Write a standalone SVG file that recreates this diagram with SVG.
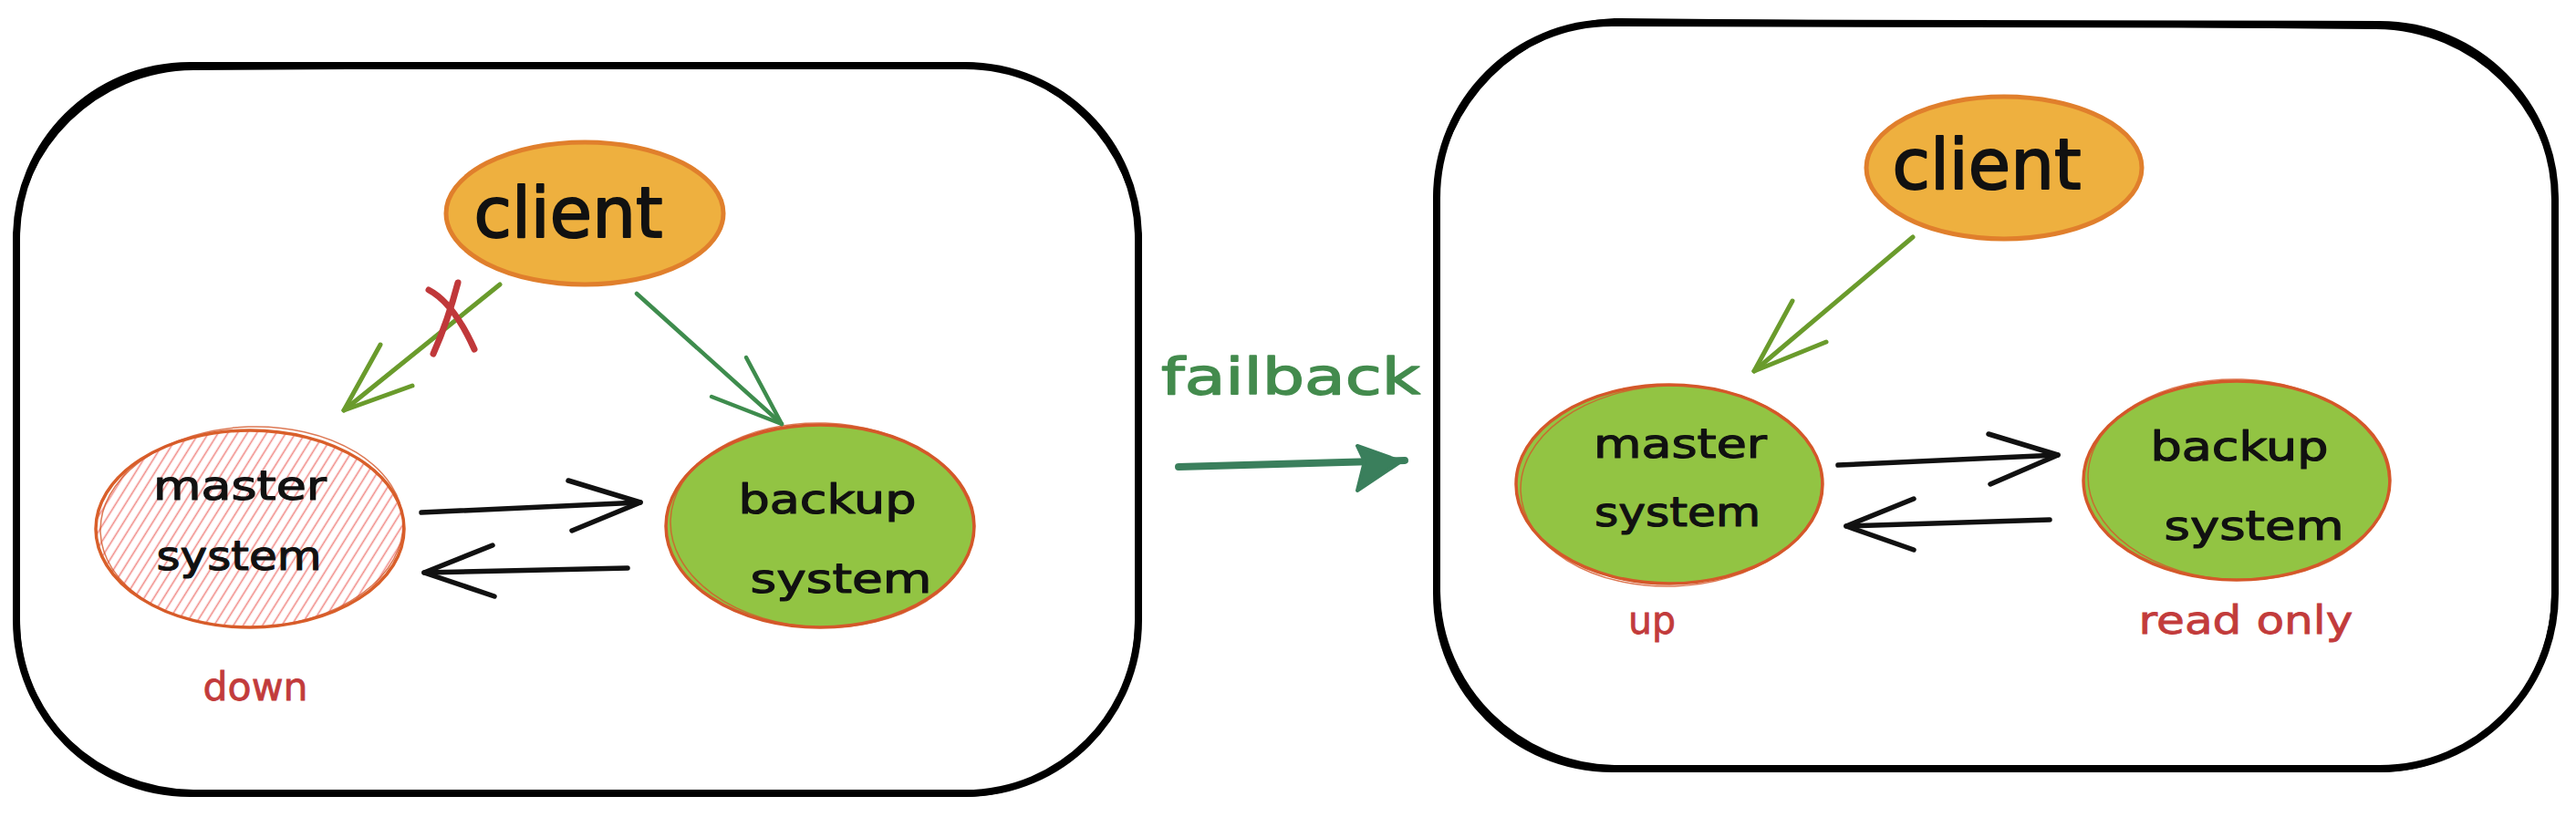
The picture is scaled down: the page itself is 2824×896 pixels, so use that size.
<svg xmlns="http://www.w3.org/2000/svg" width="2824" height="896" viewBox="0 0 2824 896">
  <style>
    .frame { fill: none; stroke: #000; stroke-linecap: round; stroke-linejoin: round; }
    .client { fill: #eeb03f; stroke: #e07f2c; stroke-width: 5; }
    .green { fill: #92c443; stroke: #d4582a; stroke-width: 3.5; }
    .sketch { fill: none; stroke: #d4582a; stroke-width: 1.5; opacity: 0.8; }
    .lbl { font-family: "DejaVu Sans", "Liberation Sans", sans-serif; fill: #111; stroke: #111; stroke-linejoin: round; text-anchor: middle; }
    .big { font-size: 76px; stroke-width: 2; }
    .mid { font-size: 44px; stroke-width: 1.2; }
    .red { font-family: "DejaVu Sans", "Liberation Sans", sans-serif; fill: #c23b3b; stroke: #c23b3b; stroke-width: 0.8; font-size: 42px; text-anchor: middle; }
    .arr { fill: none; stroke-linecap: round; stroke-linejoin: round; }
    .blk { stroke: #111; stroke-width: 5.5; }
    .olive { stroke: #6a9b2c; stroke-width: 5; }
    .dkgreen { stroke: #3e8c4d; stroke-width: 4.5; }
  </style>
  <defs>
    <pattern id="hatch" width="9" height="9" patternUnits="userSpaceOnUse" patternTransform="rotate(32)">
      <line x1="4.5" y1="0" x2="4.5" y2="9" stroke="#f08a86" stroke-width="1.6"/>
    </pattern>
    <clipPath id="clipMaster">
      <ellipse cx="274" cy="580" rx="169" ry="108"/>
    </clipPath>
  </defs>
  <rect width="2824" height="896" fill="#fff"/>

  <g id="frame-left">
    <path class="frame" stroke-width="8" d="M 208,72 L 1058,72 C 1163,72 1248,157 1248,262 L 1248,680 C 1248,785 1163,870 1058,870 L 208,870 C 103,870 18,785 18,680 L 18,262 C 18,157 103,72 208,72 Z"/>
    <path class="frame" stroke-width="4" d="M 212,75 L 1055,70 C 1160,73 1245,160 1250,266 L 1246,684 C 1245,788 1160,873 1054,872 L 212,868 C 106,866 21,788 20,684 L 16,266 C 20,160 106,76 212,75 Z"/>
  </g>

  <g id="frame-right">
    <path class="frame" stroke-width="8" d="M 1767,25 L 2609,27 C 2715,27 2801,113 2801,219 L 2801,651 C 2801,757 2715,843 2609,843 L 1767,843 C 1661,843 1575,757 1575,651 L 1575,217 C 1575,111 1661,25 1767,25 Z"/>
    <path class="frame" stroke-width="4" d="M 1770,22 L 2605,30 C 2712,31 2798,116 2803,222 L 2799,655 C 2797,761 2712,846 2605,845 L 1770,841 C 1664,839 1578,754 1577,648 L 1573,220 C 1578,114 1664,27 1770,22 Z"/>
  </g>

  <g id="node-client-left">
    <ellipse class="client" cx="641" cy="234" rx="152" ry="78"/>
    <text class="lbl big" x="623" y="260" textLength="207" lengthAdjust="spacingAndGlyphs">client</text>
  </g>

  <g id="node-master-left">
    <ellipse cx="274" cy="580" rx="169" ry="108" fill="#fff"/>
    <rect x="100" y="466" width="350" height="226" fill="url(#hatch)" clip-path="url(#clipMaster)"/>
    <ellipse cx="274" cy="580" rx="169" ry="108" fill="none" stroke="#d95f2a" stroke-width="3.5"/>
    <ellipse class="sketch" cx="276" cy="578" rx="166" ry="110" transform="rotate(-2 276 578)"/>
    <text class="lbl mid" x="263" y="548" textLength="190" lengthAdjust="spacingAndGlyphs">master</text>
    <text class="lbl mid" x="262" y="625" textLength="181" lengthAdjust="spacingAndGlyphs">system</text>
    <text class="red" x="280" y="768" textLength="115" lengthAdjust="spacingAndGlyphs">down</text>
  </g>

  <g id="node-backup-left">
    <ellipse class="green" cx="899" cy="577" rx="169" ry="111"/>
    <ellipse class="sketch" cx="901" cy="576" rx="166" ry="112" transform="rotate(2 901 576)"/>
    <text class="lbl mid" x="907" y="563" textLength="195" lengthAdjust="spacingAndGlyphs">backup</text>
    <text class="lbl mid" x="922" y="650" textLength="199" lengthAdjust="spacingAndGlyphs">system</text>
  </g>

  <g id="label-failback">
    <text x="1415" y="432" font-family="DejaVu Sans, Liberation Sans, sans-serif" font-size="56" fill="#438b4d" stroke="#438b4d" stroke-width="1.5" stroke-linejoin="round" text-anchor="middle" textLength="284" lengthAdjust="spacingAndGlyphs">failback</text>
  </g>

  <g id="node-client-right">
    <ellipse class="client" cx="2197" cy="184" rx="151" ry="78"/>
    <text class="lbl big" x="2178" y="207" textLength="207" lengthAdjust="spacingAndGlyphs">client</text>
  </g>

  <g id="node-master-right">
    <ellipse class="green" cx="1830" cy="531" rx="168" ry="109"/>
    <ellipse class="sketch" cx="1832" cy="533" rx="165" ry="110" transform="rotate(-2 1832 533)"/>
    <text class="lbl mid" x="1842" y="502" textLength="190" lengthAdjust="spacingAndGlyphs">master</text>
    <text class="lbl mid" x="1839" y="577" textLength="182" lengthAdjust="spacingAndGlyphs">system</text>
    <text class="red" x="1811" y="695" textLength="52" lengthAdjust="spacingAndGlyphs">up</text>
  </g>

  <g id="node-backup-right">
    <ellipse class="green" cx="2452" cy="527" rx="168" ry="109"/>
    <ellipse class="sketch" cx="2454" cy="526" rx="165" ry="110" transform="rotate(2 2454 526)"/>
    <text class="lbl mid" x="2455" y="505" textLength="195" lengthAdjust="spacingAndGlyphs">backup</text>
    <text class="lbl mid" x="2471" y="592" textLength="197" lengthAdjust="spacingAndGlyphs">system</text>
    <text class="red" x="2462" y="695" textLength="235" lengthAdjust="spacingAndGlyphs">read only</text>
  </g>

  <g id="connectors">
    <!-- left: client -> master (blocked) -->
    <path class="arr olive" d="M 548,312 L 377,450"/>
    <path class="arr olive" d="M 417,378 L 377,450 L 452,423"/>
    <path class="arr" stroke="#c0383a" stroke-width="7" d="M 470,318 Q 497,332 520,383"/>
    <path class="arr" stroke="#c0383a" stroke-width="7" d="M 502,310 Q 491,352 475,388"/>
    <!-- left: client -> backup -->
    <path class="arr dkgreen" d="M 698,322 L 857,465"/>
    <path class="arr dkgreen" d="M 818,392 L 857,465 L 780,435"/>
    <!-- left: master <-> backup -->
    <path class="arr blk" d="M 462,562 L 702,551"/>
    <path class="arr blk" d="M 623,527 L 702,551 L 627,582"/>
    <path class="arr blk" d="M 688,623 L 465,628"/>
    <path class="arr blk" d="M 540,598 L 465,628 L 542,654"/>
    <!-- failback arrow -->
    <path class="arr" stroke="#3a7f5c" stroke-width="8" d="M 1292,512 L 1540,505"/>
    <path d="M 1488,489 L 1536,506 L 1488,538 L 1496,506 Z" fill="#3a7f5c" stroke="#3a7f5c" stroke-width="4" stroke-linejoin="round"/>
    <!-- right: client -> master -->
    <path class="arr olive" stroke-width="6" d="M 2097,260 L 1923,407"/>
    <path class="arr olive" d="M 1965,330 L 1923,407 L 2002,375"/>
    <!-- right: master <-> backup -->
    <path class="arr blk" d="M 2015,510 L 2256,499"/>
    <path class="arr blk" d="M 2180,476 L 2256,499 L 2182,531"/>
    <path class="arr blk" d="M 2247,570 L 2024,577"/>
    <path class="arr blk" d="M 2098,547 L 2024,577 L 2098,603"/>
  </g>
</svg>
